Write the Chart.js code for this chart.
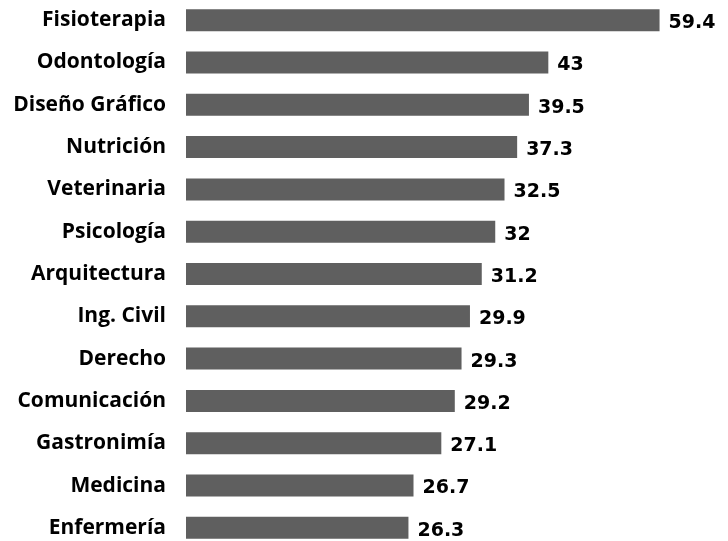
<!DOCTYPE html>
<html>
<head>
<meta charset="utf-8">
<script src="https://cdn.jsdelivr.net/npm/chart.js@4"></script>
<style>
    html, body { margin: 0; padding: 0; background: #ffffff; overflow: hidden; }
    #wrap { position: absolute; left: 0; top: -1px; width: 728px; height: 550px; }
</style>
</head>
<body>
<div id="wrap"><canvas id="barChart"></canvas></div>
<script>
// Careers, top to bottom
const careers = ['Fisioterapia', 'Odontología', 'Diseño Gráfico', 'Nutrición', 'Veterinaria', 'Psicología',
    'Arquitectura', 'Ing. Civil', 'Derecho', 'Comunicación', 'Gastronimía', 'Medicina', 'Enfermería'];

// Printed value labels
const labelValues = [59.4, 43, 39.5, 37.3, 32.5, 32, 31.2, 29.9, 29.3, 29.2, 27.1, 26.7, 26.3];

// Bar lengths as drawn in the picture (they do not follow the printed labels exactly)
const barLengths = [56.2, 43.0, 40.7, 39.3, 37.8, 36.7, 35.1, 33.7, 32.7, 31.9, 30.3, 27.0, 26.4];

const xMin = 0;
const xMax = 61;

// Draw the printed value next to the end of each bar
const valueLabels = {
    id: 'valueLabels',
    afterDatasetsDraw(chart) {
        const ctx = chart.ctx;
        const meta = chart.getDatasetMeta(0);
        ctx.save();
        ctx.font = 'bold 19px "DejaVu Sans"';
        ctx.fillStyle = '#000000';
        ctx.textAlign = 'left';
        ctx.textBaseline = 'middle';
        meta.data.forEach((bar, i) => {
            ctx.fillText(String(labelValues[i]), bar.x + 9, bar.y + 3);
        });
        ctx.restore();
    }
};

function initializeChart() {
    const ctx = document.getElementById('barChart').getContext('2d');
    new Chart(ctx, {
        type: 'bar',
        data: {
            labels: careers,
            datasets: [{
                data: barLengths,
                backgroundColor: '#5f5f5f',
                borderWidth: 0,
                barPercentage: 0.52,
                categoryPercentage: 1
            }]
        },
        options: {
            indexAxis: 'y',
            responsive: true,
            maintainAspectRatio: false,
            animation: false,
            layout: {
                padding: { left: 0, right: 28, top: 0, bottom: 0 }
            },
            plugins: {
                legend: { display: false },
                tooltip: { enabled: false }
            },
            scales: {
                x: {
                    display: false,
                    min: xMin,
                    max: xMax
                },
                y: {
                    grid: { display: false, drawTicks: false },
                    border: { display: false },
                    ticks: {
                        padding: 20,
                        color: '#000000',
                        font: { family: '"Open Sans"', size: 21, weight: 'bold' }
                    },
                    afterFit(scale) {
                        // fixed label column, no extra room above/below the bars
                        scale.width = 186;
                        scale.paddingTop = 0;
                        scale.paddingBottom = 0;
                    }
                }
            }
        },
        plugins: [valueLabels]
    });
}

document.addEventListener('DOMContentLoaded', initializeChart);
</script>
</body>
</html>
